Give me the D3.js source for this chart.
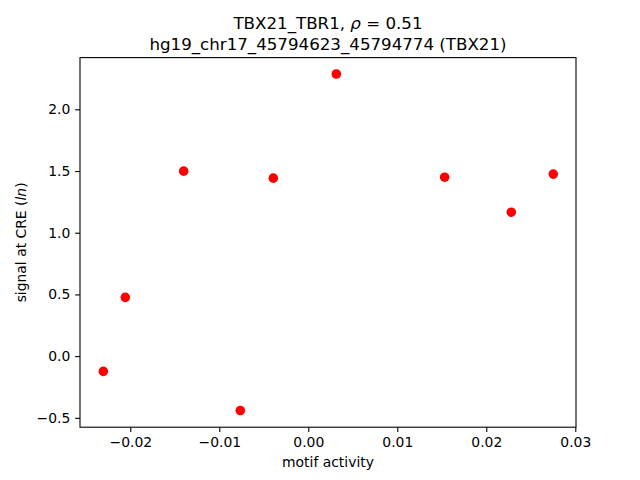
<!DOCTYPE html>
<html><head><meta charset="utf-8">
<script src="https://cdn.jsdelivr.net/npm/d3@7"></script>
<style>body{margin:0;background:#fff}svg{display:block}text{font-family:"DejaVu Sans",sans-serif;fill:#000}</style>
</head><body>
<svg id="c" width="640" height="480"></svg>
<script>
const motifActivity = [-0.02303, -0.02056, -0.0140, -0.00764, -0.00393, 0.00315, 0.01532, 0.02281, 0.02753];
const signalAtCRE = [-0.124, 0.476, 1.499, -0.441, 1.442, 2.286, 1.450, 1.166, 1.475];
const xTicks = [-0.02, -0.01, 0.00, 0.01, 0.02, 0.03];
const xTickLabels = ["\u22120.02", "\u22120.01", "0.00", "0.01", "0.02", "0.03"];
const yTicks = [-0.5, 0.0, 0.5, 1.0, 1.5, 2.0];
const yTickLabels = ["\u22120.5", "0.0", "0.5", "1.0", "1.5", "2.0"];

const svg = d3.select("#c");
const L = 80, R = 576, T = 57.6, B = 427.2;
const x = d3.scaleLinear().domain([-0.02565, 0.03008]).range([L, R]);
const y = d3.scaleLinear().domain([-0.576, 2.419]).range([B, T]);

const fs = 13.9;
const xAxis = d3.axisBottom(x).tickValues(xTicks).tickFormat((d,i)=>xTickLabels[i]).tickSize(4.86).tickPadding(4.86);
const gx = svg.append("g").attr("transform", `translate(0,${B})`).call(xAxis);
const yAxis = d3.axisLeft(y).tickValues(yTicks).tickFormat((d,i)=>yTickLabels[i]).tickSize(4.86).tickPadding(4.86);
const gy = svg.append("g").attr("transform", `translate(${L},0)`).call(yAxis);
[gx, gy].forEach(g => {
  g.select(".domain").remove();
  g.selectAll(".tick line").attr("stroke", "#000").attr("stroke-width", 1.1);
  g.selectAll(".tick text").attr("font-family", "DejaVu Sans").attr("font-size", fs).attr("fill", "#000");
});

svg.append("rect").attr("x", L).attr("y", T).attr("width", R - L).attr("height", B - T)
  .attr("fill", "none").attr("stroke", "#000").attr("stroke-width", 1.1);

svg.append("g").selectAll("circle").data(motifActivity).join("circle")
  .attr("cx", d => x(d)).attr("cy", (d, i) => y(signalAtCRE[i])).attr("r", 4.8).attr("fill", "#ff0000");

const t1 = svg.append("text").attr("x", (L + R) / 2).attr("y", 29).attr("text-anchor", "middle").attr("font-size", 16.67);
t1.append("tspan").text("TBX21_TBR1, ");
t1.append("tspan").attr("font-style", "italic").text("\u03C1");
t1.append("tspan").text(" = 0.51");
svg.append("text").attr("x", (L + R) / 2).attr("y", 49.5).attr("text-anchor", "middle").attr("font-size", 16.67)
  .text("hg19_chr17_45794623_45794774 (TBX21)");

svg.append("text").attr("x", (L + R) / 2).attr("y", 467).attr("text-anchor", "middle").attr("font-size", fs).text("motif activity");
const yl = svg.append("text").attr("transform", `translate(26,${(T + B) / 2}) rotate(-90)`).attr("text-anchor", "middle").attr("font-size", fs);
yl.append("tspan").text("signal at CRE (");
yl.append("tspan").attr("font-style", "italic").text("ln");
yl.append("tspan").text(")");
</script>
</body></html>
